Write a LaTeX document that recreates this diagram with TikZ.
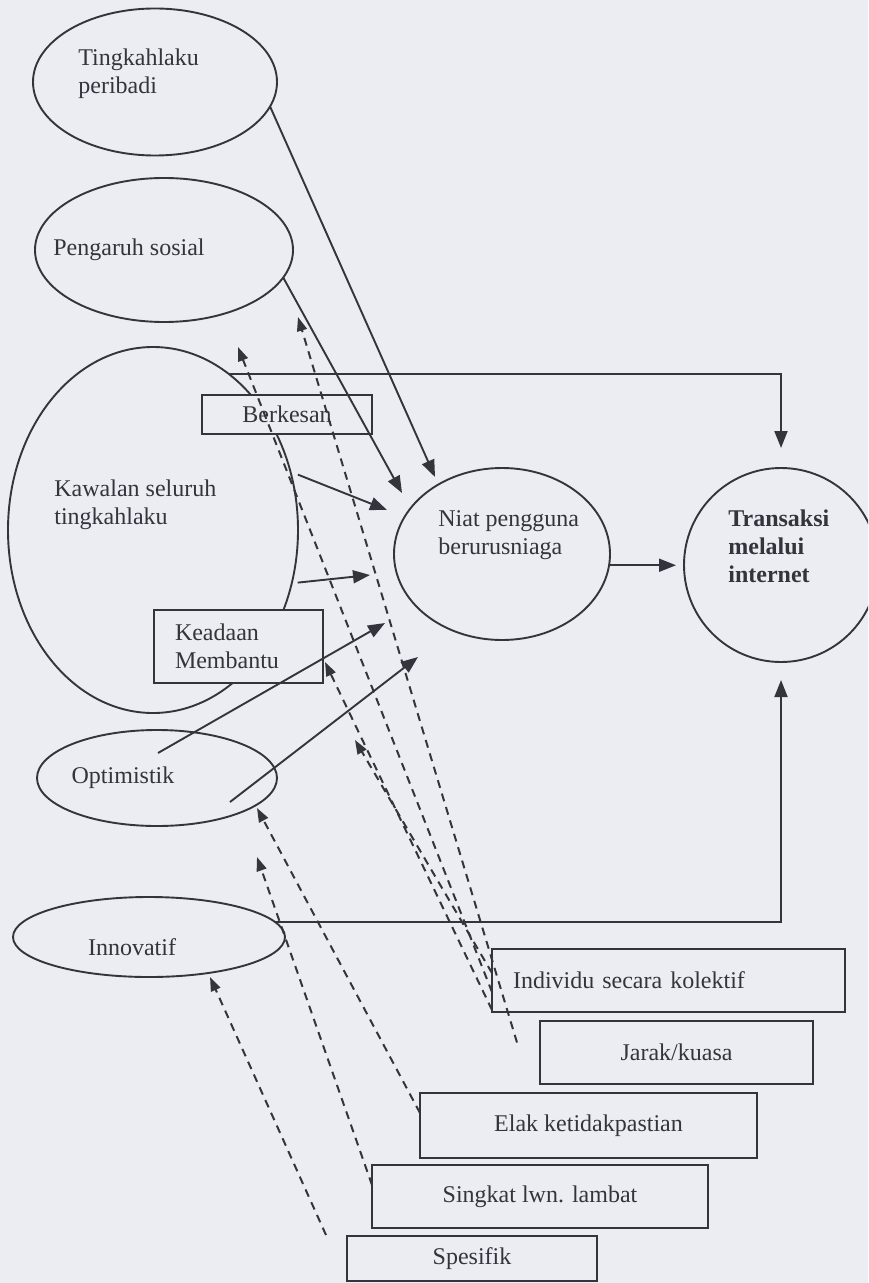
\documentclass[tikz,border=0pt]{standalone}
\usepackage{fontspec}
\setmainfont{Liberation Serif}
\usepackage{tikz}
\usetikzlibrary{shapes.geometric,arrows.meta,calc}

\definecolor{paper}{RGB}{236,237,243}
\definecolor{ink}{RGB}{52,52,60}

\tikzset{
  ell/.style={ellipse, draw=ink, line width=0.95pt, inner sep=0pt, outer sep=0pt},
  box/.style={rectangle, draw=ink, line width=0.8pt, fill=paper, inner sep=0pt, outer sep=0pt, text=ink},
  lbl/.style={inner sep=0pt, align=left, text=ink},
  arr/.style={draw=ink, line width=0.95pt, -{Triangle[length=8.5pt,width=6.5pt]}},
  darr/.style={draw=ink, line width=1pt, dash pattern=on 4pt off 3pt, -{Triangle[length=7pt,width=5pt]}}
}

\begin{document}
\begin{tikzpicture}[x=0.5pt, y=-0.5pt]

  \fontsize{12}{14}\selectfont

  \path[use as bounding box, fill=paper] (0,0) rectangle (868,1283);
  \clip (0,0) rectangle (868,1283);

  % ellipses
  \node[ell, minimum width=122pt, minimum height=73.5pt] (peribadi) at (155,82) {};
  \node[ell, minimum width=129pt, minimum height=72pt] (sosial) at (164,250) {};
  \node[ell, minimum width=145pt, minimum height=183pt] (kawalan) at (153,530) {};
  \node[ell, minimum width=120pt, minimum height=48pt] (optimis) at (157,778) {};
  \node[ell, minimum width=136pt, minimum height=40pt] (innov) at (149,937) {};
  \node[ell, minimum width=108pt, minimum height=86pt] (niat) at (502,554) {};
  \node[ell, minimum width=97pt, minimum height=97pt] (transaksi) at (781,565) {};

  \node[lbl, anchor=west] (peribadiT) at (78,74) {Tingkahlaku\\peribadi};
  \node[lbl] (sosialT) at (129,250) {Pengaruh sosial};
  \node[lbl, anchor=west] (kawalanT) at (54,505) {Kawalan seluruh\\tingkahlaku};
  \node[lbl] (optimisT) at (123,778) {Optimistik};
  \node[lbl] (innovT) at (132,947) {Innovatif};
  \node[lbl, anchor=west] (niatT) at (438,535) {Niat pengguna\\berurusniaga};
  \node[lbl, anchor=west, font=\bfseries] (transaksiT) at (728,546) {Transaksi\\melalui\\internet};

  % boxes
  \node[box, minimum width=85pt, minimum height=19.5pt] (berkesan) at (287,414.5) {Berkesan};
  \node[box, text width=63.5pt, inner xsep=10.5pt, align=left, minimum height=36.5pt] (keadaan) at (238.5,646.5) {Keadaan\\Membantu};
  \node[box, text width=155.5pt, inner xsep=10.5pt, align=left, minimum height=31.5pt] (individu) at (668.5,980.5) {Individu secara kolektif};
  \node[box, minimum width=136.5pt, minimum height=31.5pt] (jarak) at (676.5,1052.5) {Jarak/kuasa};
  \node[box, minimum width=168.5pt, minimum height=32.5pt] (elak) at (588.5,1125.5) {Elak ketidakpastian};
  \node[box, minimum width=168pt, minimum height=31.5pt] (singkat) at (540,1196.5) {Singkat lwn. lambat};
  \node[box, minimum width=125pt, minimum height=22.5pt] (spesifik) at (472,1258.5) {Spesifik};

  % free ends
  \coordinate (n1) at (435,477);
  \coordinate (n2) at (402,493);
  \coordinate (n4) at (387,510);
  \coordinate (n5) at (370,575);
  \coordinate (o1) at (158,753);
  \coordinate (n6) at (385,623);
  \coordinate (o2) at (230,802);
  \coordinate (n7) at (418,657);

  \coordinate (k1) at (238,347);
  \coordinate (k2) at (298,317);
  \coordinate (k3) at (325,662);
  \coordinate (k4) at (355,740);
  \coordinate (k5) at (257,808);
  \coordinate (k6) at (257,857);
  \coordinate (k7) at (210,977);

  \draw[arr] (peribadi.-12) -- (n1);
  \draw[arr] (sosial.-13) -- (n2);
  \draw[arr, shorten >=10pt] (kawalan.64) -| (transaksi.north);
  \draw[arr, shorten <=4pt] (kawalan.23) -- (n4);
  \draw[arr, shorten <=3pt] (kawalan.-21) -- (n5);
  \draw[arr] (o1) -- (n6);
  \draw[arr] (o2) -- (n7);
  \draw[arr, shorten >=4pt] (niat.-6) -- (niat.-6 -| transaksi.west);
  \draw[arr, shorten >=9pt] (innov.7) -| (transaksi.south);

  \draw[darr] ($(individu.west)+(0,11.5)$) -- (k1);
  \draw[darr] ($(jarak.west)+(-23,-10)$) -- (k2);
  \draw[darr] ($(individu.south west)+(0,-2)$) -- (k3);
  \draw[darr] ($(individu.west)+(0,-7.5)$) -- (k4);
  \draw[darr] ($(elak.west)+(0,-12.5)$) -- (k5);
  \draw[darr] ($(singkat.west)+(0,-11.5)$) -- (k6);
  \draw[darr] ($(spesifik.north west)+(-21,-1)$) -- (k7);

\end{tikzpicture}
\end{document}
